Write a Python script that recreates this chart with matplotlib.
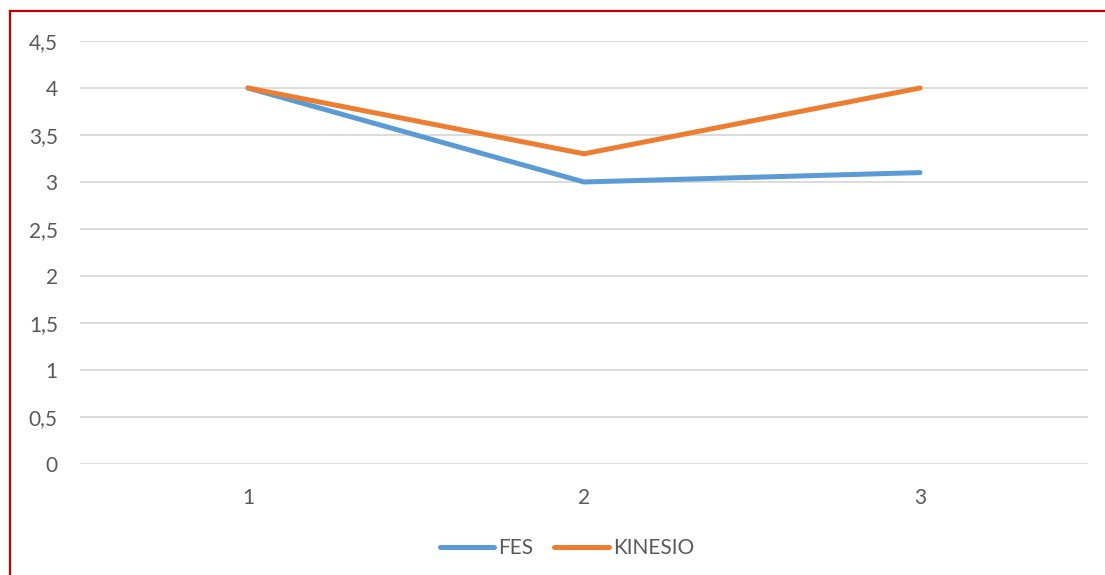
import matplotlib.pyplot as plt
from matplotlib.lines import Line2D
from matplotlib.ticker import FuncFormatter

categorias = [1, 2, 3]
fes = [4, 3, 3.1]
kinesio = [4, 3.3, 4]
y_ticks = [0, 0.5, 1, 1.5, 2, 2.5, 3, 3.5, 4, 4.5]

azul = '#5b9bd5'
laranja = '#ed7d31'
cinza_texto = '#595959'
cinza_grade = '#d9d9d9'

plt.rcParams['font.family'] = ['Lato', 'DejaVu Sans']

my_dpi = 100
fig = plt.figure(figsize=(1105/my_dpi, 575/my_dpi), dpi=my_dpi)
ax = fig.add_axes([80/1105, 111/575, 1008/1105, 423/575])

ax.plot(categorias, fes, color=azul, lw=3.6, solid_capstyle='round', label='FES', zorder=3)
ax.plot(categorias, kinesio, color=laranja, lw=3.6, solid_capstyle='round', label='KINESIO', zorder=3)

ax.set_xlim(0.5, 3.5)
ax.set_ylim(0, 4.5)
ax.set_xticks(categorias)
ax.set_yticks(y_ticks)
ax.yaxis.set_major_formatter(FuncFormatter(lambda v, p: ('%g' % v).replace('.', ',')))
ax.grid(axis='y', color=cinza_grade, lw=1.3)
ax.set_axisbelow(True)
for s in ax.spines.values():
    s.set_visible(False)
ax.tick_params(axis='both', length=0, labelsize=15, colors=cinza_texto)
ax.tick_params(axis='x', pad=17)
ax.tick_params(axis='y', pad=16)

fig.legend(loc='center', bbox_to_anchor=(567/1105, 1 - 548/575), ncol=2, frameon=False,
           fontsize=15, handlelength=2.6, handletextpad=0.2, columnspacing=1.0,
           labelcolor=cinza_texto)

# moldura vermelha (esquerda e topo)
fig.add_artist(Line2D([10/1105, 10/1105], [0, 1 - 11/575], color='#c00000', lw=1.6))
fig.add_artist(Line2D([10/1105, 1], [1 - 11/575, 1 - 11/575], color='#c00000', lw=1.6))

fig.savefig('out.png', dpi=my_dpi)
